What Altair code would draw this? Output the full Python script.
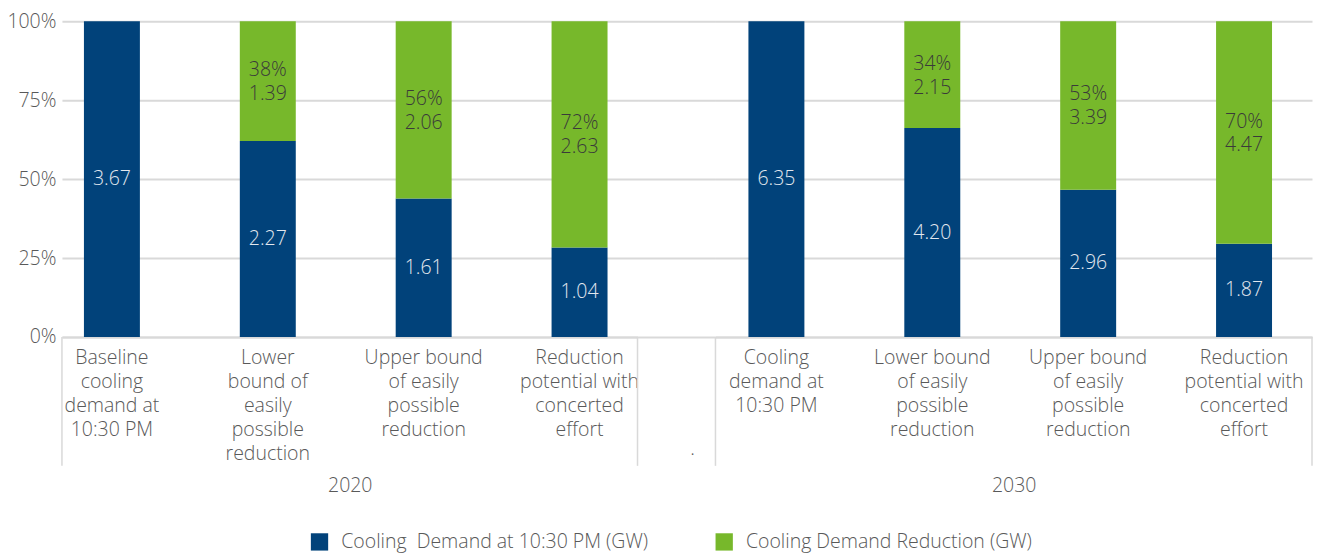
import altair as alt
import pandas as pd

# Scenario labels (line breaks as they appear under each bar)
labels_2020 = [
    "Baseline\ncooling\ndemand at\n10:30 PM",
    "Lower\nbound of\neasily\npossible\nreduction",
    "Upper bound\nof easily\npossible\nreduction",
    "Reduction\npotential with\nconcerted\neffort",
]
labels_2030 = [
    "Cooling\ndemand at\n10:30 PM",
    "Lower bound\nof easily\npossible\nreduction",
    "Upper bound\nof easily\npossible\nreduction",
    "Reduction\npotential with\nconcerted\neffort",
]
years = ["2020", "2030"]

# Remaining cooling demand and reduction (GW)
demand_2020 = [3.67, 2.27, 1.61, 1.04]
reduction_2020 = [0.0, 1.39, 2.06, 2.63]
demand_2030 = [6.35, 4.20, 2.96, 1.87]
reduction_2030 = [0.0, 2.15, 3.39, 4.47]

series_names = ["Cooling\u00a0\u00a0Demand at 10:30 PM (GW)", "Cooling Demand Reduction (GW)"]
series_colors = ["#01427a", "#77b82b"]

FONT = "Open Sans"
WEIGHT = 300
FS = 19.5
TEXT_GREY = "#595959"
GRID = "#d9d9d9"
PLOT_H = 316


def build_rows(year, labels, demand, reduction):
    rows = []
    baseline = demand[0] + reduction[0]
    for i, lab in enumerate(labels):
        pct = round(100 * reduction[i] / baseline)
        rows.append(dict(year=year, scenario=lab, series=series_names[0], order=0,
                         value=demand[i], label=f"{demand[i]:.2f}"))
        rows.append(dict(year=year, scenario=lab, series=series_names[1], order=1,
                         value=reduction[i], label=f"{pct}%\n{reduction[i]:.2f}"))
    return rows


df = pd.DataFrame(
    build_rows(years[0], labels_2020, demand_2020, reduction_2020)
    + build_rows(years[1], labels_2030, demand_2030, reduction_2030)
)

y_scale = alt.Scale(domain=[0, 1], nice=False, zero=True)
color_scale = alt.Scale(domain=series_names, range=series_colors)


def y_axis(show_labels):
    if show_labels:
        return alt.Axis(values=[0, 0.25, 0.5, 0.75, 1], format=".0%", title=None,
                        grid=True, gridColor=GRID, gridWidth=2, domain=False, ticks=False,
                        labelFontSize=FS, labelColor=TEXT_GREY, labelFont=FONT,
                        labelFontWeight=WEIGHT, labelPadding=6, minExtent=57, maxExtent=57)
    return alt.Axis(values=[0, 0.25, 0.5, 0.75, 1], title=None, labels=False,
                    grid=True, gridColor=GRID, gridWidth=2, domain=False, ticks=False)


def edge_rules(width):
    one = pd.DataFrame({"k": [0]})
    return [
        alt.Chart(one).mark_rule(color=GRID, strokeWidth=1.5).encode(
            x=alt.value(xv), y=alt.value(PLOT_H), y2=alt.value(PLOT_H + 129))
        for xv in (0, width)
    ]


def year_panel(year, labels, width, pad_outer, align, show_y):
    base = alt.Chart(df).transform_filter(alt.datum.year == year).transform_stack(
        stack="value", groupby=["scenario"], as_=["v0", "v1"],
        offset="normalize", sort=[alt.SortField("order", "ascending")],
    ).transform_calculate(mid="(datum.v0 + datum.v1) / 2")

    x = alt.X("scenario:N", sort=labels,
              scale=alt.Scale(paddingInner=0.641, paddingOuter=pad_outer, align=align),
              axis=alt.Axis(title=year, labelExpr="split(datum.label, '\\n')",
                            labelAngle=0, labelFontSize=FS, labelFont=FONT,
                            labelFontWeight=WEIGHT,
                            labelColor=TEXT_GREY, labelLineHeight=24, labelPadding=12,
                            labelBaseline="top", labelLimit=200,
                            ticks=False, domain=True, domainColor=GRID, domainWidth=2,
                            titleFontSize=FS, titleFont=FONT, titleFontWeight=WEIGHT,
                            titleColor=TEXT_GREY, titleY=149, titleBaseline="middle"))

    bars = base.transform_filter(alt.datum.value > 0).mark_bar().encode(
        x=x,
        y=alt.Y("v0:Q", scale=y_scale, axis=y_axis(show_y)),
        y2="v1:Q",
        color=alt.Color("series:N", scale=color_scale, title=None),
    )
    demand_text = base.transform_filter(alt.datum.order == 0).mark_text(
        font=FONT, fontSize=FS, fontWeight=WEIGHT, color="#e3e8ef",
        baseline="middle").encode(
        x=alt.X("scenario:N", sort=labels), y=alt.Y("mid:Q"), text="label:N")
    reduction_text = base.transform_filter(
        (alt.datum.order == 1) & (alt.datum.value > 0)).mark_text(
        font=FONT, fontSize=FS, fontWeight=WEIGHT, color="#3a3a3a", baseline="middle",
        lineBreak="\n", lineHeight=24, dy=-11).encode(
        x=alt.X("scenario:N", sort=labels), y=alt.Y("mid:Q"), text="label:N")

    return alt.layer(bars, demand_text, reduction_text, *edge_rules(width)).properties(
        width=width, height=PLOT_H)


left = year_panel(years[0], labels_2020, 576, 0.1667, 0.423, True)
right = year_panel(years[1], labels_2030, 597, 0.234, 0.452, False)

# Narrow blank slot between the two years
gap_w = 78
gap_grid = alt.Chart(pd.DataFrame({"v": [0, 1]})).mark_point(opacity=0).encode(
    y=alt.Y("v:Q", scale=y_scale, axis=y_axis(False)))
gap_dot = alt.Chart(pd.DataFrame({"t": ["."]})).mark_text(
    font=FONT, fontSize=FS, fontWeight=WEIGHT, color=TEXT_GREY, baseline="middle").encode(
    x=alt.value(gap_w / 2 + 16), y=alt.value(PLOT_H + 112), text="t:N")
gap = alt.layer(gap_grid, gap_dot).properties(width=gap_w, height=PLOT_H)

chart = alt.hconcat(left, gap, right, spacing=0, bounds="flush").resolve_scale(
    x="independent", y="independent", color="shared"
).configure_view(stroke=None).configure_legend(
    orient="none", legendX=248, legendY=511, direction="horizontal",
    symbolType="square", symbolSize=300, symbolStrokeWidth=0,
    labelFontSize=FS, labelFont=FONT, labelFontWeight=WEIGHT, labelColor=TEXT_GREY,
    labelLimit=500, labelOffset=12, columnPadding=66,
).properties(padding={"left": 5, "top": 11, "right": 4, "bottom": 5})

chart.save("out.html", embed_options={"renderer": "svg", "actions": False})
